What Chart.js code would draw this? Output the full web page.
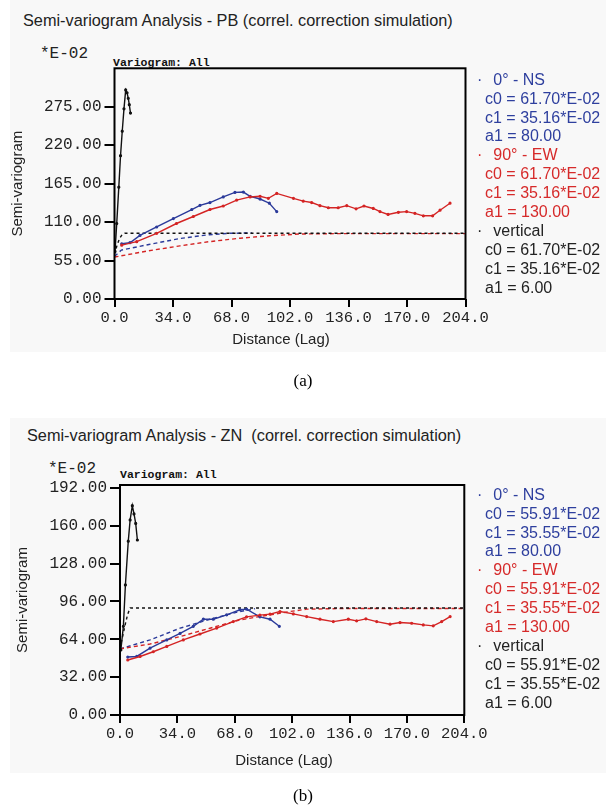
<!DOCTYPE html>
<html>
<head>
<meta charset="utf-8">
<script src="https://cdn.jsdelivr.net/npm/chart.js@4.4.1/dist/chart.umd.min.js"></script>
<style>
  html, body { margin: 0; padding: 0; background: #fff; }
  body { width: 606px; height: 807px; position: relative; overflow: hidden; font-family: 'Liberation Sans', Arial, sans-serif; color: #222; }
  .panel { position: absolute; left: 10px; width: 596px; background: #f8f8f8; }
  .abs { position: absolute; white-space: pre; line-height: 1; }
  .title { font-size: 16.3px; }
  .exp { font-family: 'Liberation Mono', monospace; font-size: 16px; }
  .vg { font-family: 'Liberation Mono', monospace; font-size: 11.5px; font-weight: bold; color: #111; }
  .xt { font-size: 15px; transform: translateX(-50%); }
  .cap { font-family: 'Liberation Serif', serif; font-size: 17px; color: #000; transform: translateX(-50%); }
  .leg { position: absolute; left: 477px; font-size: 16px; line-height: 18.9px; }
  .leg div { padding-left: 8px; white-space: pre; }
  .leg div.hd { padding-left: 0; }
  .leg .d { display: inline-block; width: 16.3px; }
  .blue { color: #2e3f9e; }
  .red { color: #d62a2a; }
  .blk { color: #222; }
  canvas { position: absolute; left: 0; }
</style>
</head>
<body>
<div class="panel" style="top:0;height:352px"></div>
<div class="panel" style="top:418px;height:355px"></div>

<div class="abs title" style="left:23px;top:11.5px">Semi-variogram Analysis - PB (correl. correction simulation)</div>
<div class="abs exp" style="left:40px;top:46px">*E-02</div>
<div class="abs vg" style="left:113px;top:57px">Variogram: All</div>
<canvas id="pb" width="500" height="296" style="top:50px"></canvas>
<div class="abs xt" style="left:281px;top:331px">Distance (Lag)</div>
<div class="leg" style="top:70.7px">
  <div class="hd blue"><span class="d">·</span>0° - NS</div>
  <div class="blue">c0 = 61.70*E-02</div>
  <div class="blue">c1 = 35.16*E-02</div>
  <div class="blue">a1 = 80.00</div>
  <div class="hd red"><span class="d">·</span>90° - EW</div>
  <div class="red">c0 = 61.70*E-02</div>
  <div class="red">c1 = 35.16*E-02</div>
  <div class="red">a1 = 130.00</div>
  <div class="hd blk"><span class="d">·</span>vertical</div>
  <div class="blk">c0 = 61.70*E-02</div>
  <div class="blk">c1 = 35.16*E-02</div>
  <div class="blk">a1 = 6.00</div>
</div>
<div class="abs cap" style="left:303px;top:372px">(a)</div>

<div class="abs title" style="left:27px;top:426.5px">Semi-variogram Analysis - ZN  (correl. correction simulation)</div>
<div class="abs exp" style="left:48px;top:461px">*E-02</div>
<div class="abs vg" style="left:120px;top:469px">Variogram: All</div>
<canvas id="zn" width="500" height="292" style="top:470px"></canvas>
<div class="abs xt" style="left:284px;top:752px">Distance (Lag)</div>
<div class="leg" style="top:485.7px">
  <div class="hd blue"><span class="d">·</span>0° - NS</div>
  <div class="blue">c0 = 55.91*E-02</div>
  <div class="blue">c1 = 35.55*E-02</div>
  <div class="blue">a1 = 80.00</div>
  <div class="hd red"><span class="d">·</span>90° - EW</div>
  <div class="red">c0 = 55.91*E-02</div>
  <div class="red">c1 = 35.55*E-02</div>
  <div class="red">a1 = 130.00</div>
  <div class="hd blk"><span class="d">·</span>vertical</div>
  <div class="blk">c0 = 55.91*E-02</div>
  <div class="blk">c1 = 35.55*E-02</div>
  <div class="blk">a1 = 6.00</div>
</div>
<div class="abs cap" style="left:303px;top:787px">(b)</div>

<script>
// tick values
const lagTicks = [0, 34, 68, 102, 136, 170, 204];
const pbTicks = [0, 55, 110, 165, 220, 275];
const znTicks = [0, 32, 64, 96, 128, 160, 192];

// PB: [lag, semi-variogram *E-02]
const pbVertical = [[0.3, 68], [1.3, 108], [2.5, 160], [3.5, 205], [4.5, 240], [5.5, 272], [6.5, 299], [7.3, 295], [8, 287], [8.6, 278], [9.3, 266]];
const pbVerticalModel = [[0, 64], [1.5, 77], [3, 87], [4.5, 92.5], [6, 94], [204, 94]];
const pbNS = [[4.2, 79], [9, 80.5], [14.8, 91], [24.5, 103], [34.2, 115], [44.9, 128], [49.7, 134], [55.5, 138], [63.2, 146], [70, 152.5], [74.9, 153], [78.8, 147], [84.6, 143], [90, 137], [94.3, 125]];
const pbNSModel = [[0, 61], [4, 70], [20, 78], [38, 86.5], [55, 92], [67, 94], [80, 94.5]];
const pbEW = [[4.2, 77], [12.9, 82], [24.5, 94], [36, 108], [45.8, 118], [55.5, 128], [63.2, 133], [71, 141.5], [78.8, 146], [84.6, 147], [89.4, 144], [94.3, 151], [104, 144], [109.7, 140], [114.6, 138], [119.4, 133.5], [124.3, 130.5], [130, 130.5], [135, 133.5], [140.4, 129], [145, 133], [150.4, 129.5], [154.3, 125], [159, 121], [165, 124], [169.8, 125], [174.6, 122.5], [179.5, 119], [184.9, 119], [189.2, 127], [195, 137]];
const pbEWModel = [[0, 60], [20, 69], [38, 76], [55, 82], [73, 87], [90, 90.5], [108, 93], [130, 93.5], [204, 93.5]];

// ZN
const znVertical = [[0.5, 55], [2, 75], [3.2, 110], [4.9, 147], [6, 165], [7.3, 177], [8.3, 170], [9.3, 162], [10.3, 148]];
const znVerticalModel = [[0, 56], [1.5, 66], [3, 76], [4.5, 85], [6, 90.5], [204, 90.5]];
const znNS = [[4.6, 49], [9.9, 49.5], [17.8, 56.5], [27.7, 63.5], [35.6, 69], [43.4, 75], [49.4, 81], [55.3, 81], [63.2, 84.7], [71.1, 89], [75, 89.5], [82.9, 83], [88.9, 81], [94.4, 75]];
const znNSModel = [[0, 55.9], [17.8, 63.5], [35.6, 73.4], [53.3, 81], [71, 87.5], [79, 89.5], [80, 90]];
const znEW = [[4.6, 46.5], [11.9, 49.5], [19.7, 53.5], [27.7, 58], [37.5, 63.5], [47.4, 68.5], [57.3, 73.5], [67.1, 79], [75, 83], [82.9, 84.5], [88.9, 85.3], [94.8, 87.5], [102.7, 85.5], [110.6, 83.2], [118.5, 81], [126.4, 79], [135.3, 81], [140.2, 79.6], [145.7, 81.3], [152.1, 79], [160, 76.8], [165.9, 78.2], [172.8, 77.6], [179.7, 76.2], [185.6, 75.4], [190.6, 79], [195.6, 83.2]];
const znEWModel = [[0, 55.9], [17.8, 60], [35.6, 66.3], [53.3, 73.4], [71, 80.4], [88.9, 84.7], [100.7, 87.5], [110.6, 89.5], [130, 90], [204, 90]];

const BLUE = '#2b3a9a';
const RED = '#d42424';
const BLACK = '#111';

// box round the plot area
const frame = {
  id: 'frame',
  afterDatasetsDraw(chart) {
    const { ctx, chartArea: a } = chart;
    ctx.save();
    ctx.strokeStyle = '#000';
    ctx.lineWidth = 2;
    ctx.strokeRect(a.left, a.top, a.right - a.left, a.bottom - a.top);
    ctx.restore();
  }
};

function series(pairs, color, dash, points) {
  return {
    data: pairs.map(([x, y]) => ({ x, y })),
    borderColor: color,
    backgroundColor: color,
    borderWidth: 1.4,
    borderDash: dash || [],
    pointRadius: points ? 0.9 : 0,
    pointHoverRadius: 0,
    tension: 0,
    fill: false
  };
}

function variogram(id, d) {
  const mono = 'Liberation Mono';
  new Chart(document.getElementById(id), {
    type: 'line',
    data: {
      datasets: [
        series(d.ew, RED, null, true),
        series(d.ns, BLUE, null, true),
        series(d.vert, BLACK, null, true),
        series(d.vertModel, BLACK, [3, 3]),
        series(d.ewModel, RED, [4, 3]),
        series(d.nsModel, BLUE, [4, 3])
      ]
    },
    options: {
      responsive: false,
      animation: false,
      events: [],
      layout: { padding: { top: d.padTop, right: d.padRight, bottom: 0, left: 0 } },
      plugins: { legend: { display: false }, tooltip: { enabled: false } },
      scales: {
        x: {
          type: 'linear',
          min: 0,
          max: 204,
          afterBuildTicks: s => { s.ticks = lagTicks.map(v => ({ value: v })); },
          afterFit: s => { s.height = 47; },
          grid: { drawOnChartArea: false, drawTicks: true, tickLength: 8, color: '#000', lineWidth: 2 },
          border: { display: false },
          ticks: {
            font: { family: mono, size: 15.5 },
            color: '#222',
            padding: 2,
            maxRotation: 0,
            autoSkip: false,
            callback: v => v.toFixed(1)
          }
        },
        y: {
          min: 0,
          max: d.yMax,
          afterBuildTicks: s => { s.ticks = d.yTicks.map(v => ({ value: v })); },
          afterFit: s => { s.width = d.axisWidth; },
          grid: { drawOnChartArea: false, drawTicks: true, tickLength: 10, color: '#000', lineWidth: 2 },
          border: { display: false },
          ticks: {
            font: { family: mono, size: 16 },
            color: '#222',
            padding: 3,
            autoSkip: false,
            callback: v => v.toFixed(2)
          },
          title: {
            display: true,
            text: 'Semi-variogram',
            font: { family: 'Liberation Sans', size: 15 },
            color: '#222',
            padding: { top: d.titlePad, bottom: 0 }
          }
        }
      }
    },
    plugins: [frame]
  });
}

variogram('pb', {
  vert: pbVertical, vertModel: pbVerticalModel,
  ns: pbNS, nsModel: pbNSModel,
  ew: pbEW, ewModel: pbEWModel,
  yTicks: pbTicks, yMax: 330,
  axisWidth: 114.5, padTop: 18.3, padRight: 34.5, titlePad: 9
});

variogram('zn', {
  vert: znVertical, vertModel: znVerticalModel,
  ns: znNS, nsModel: znNSModel,
  ew: znEW, ewModel: znEWModel,
  yTicks: znTicks, yMax: 194.5,
  axisWidth: 120, padTop: 15, padRight: 35.7, titlePad: 14
});
</script>
</body>
</html>
